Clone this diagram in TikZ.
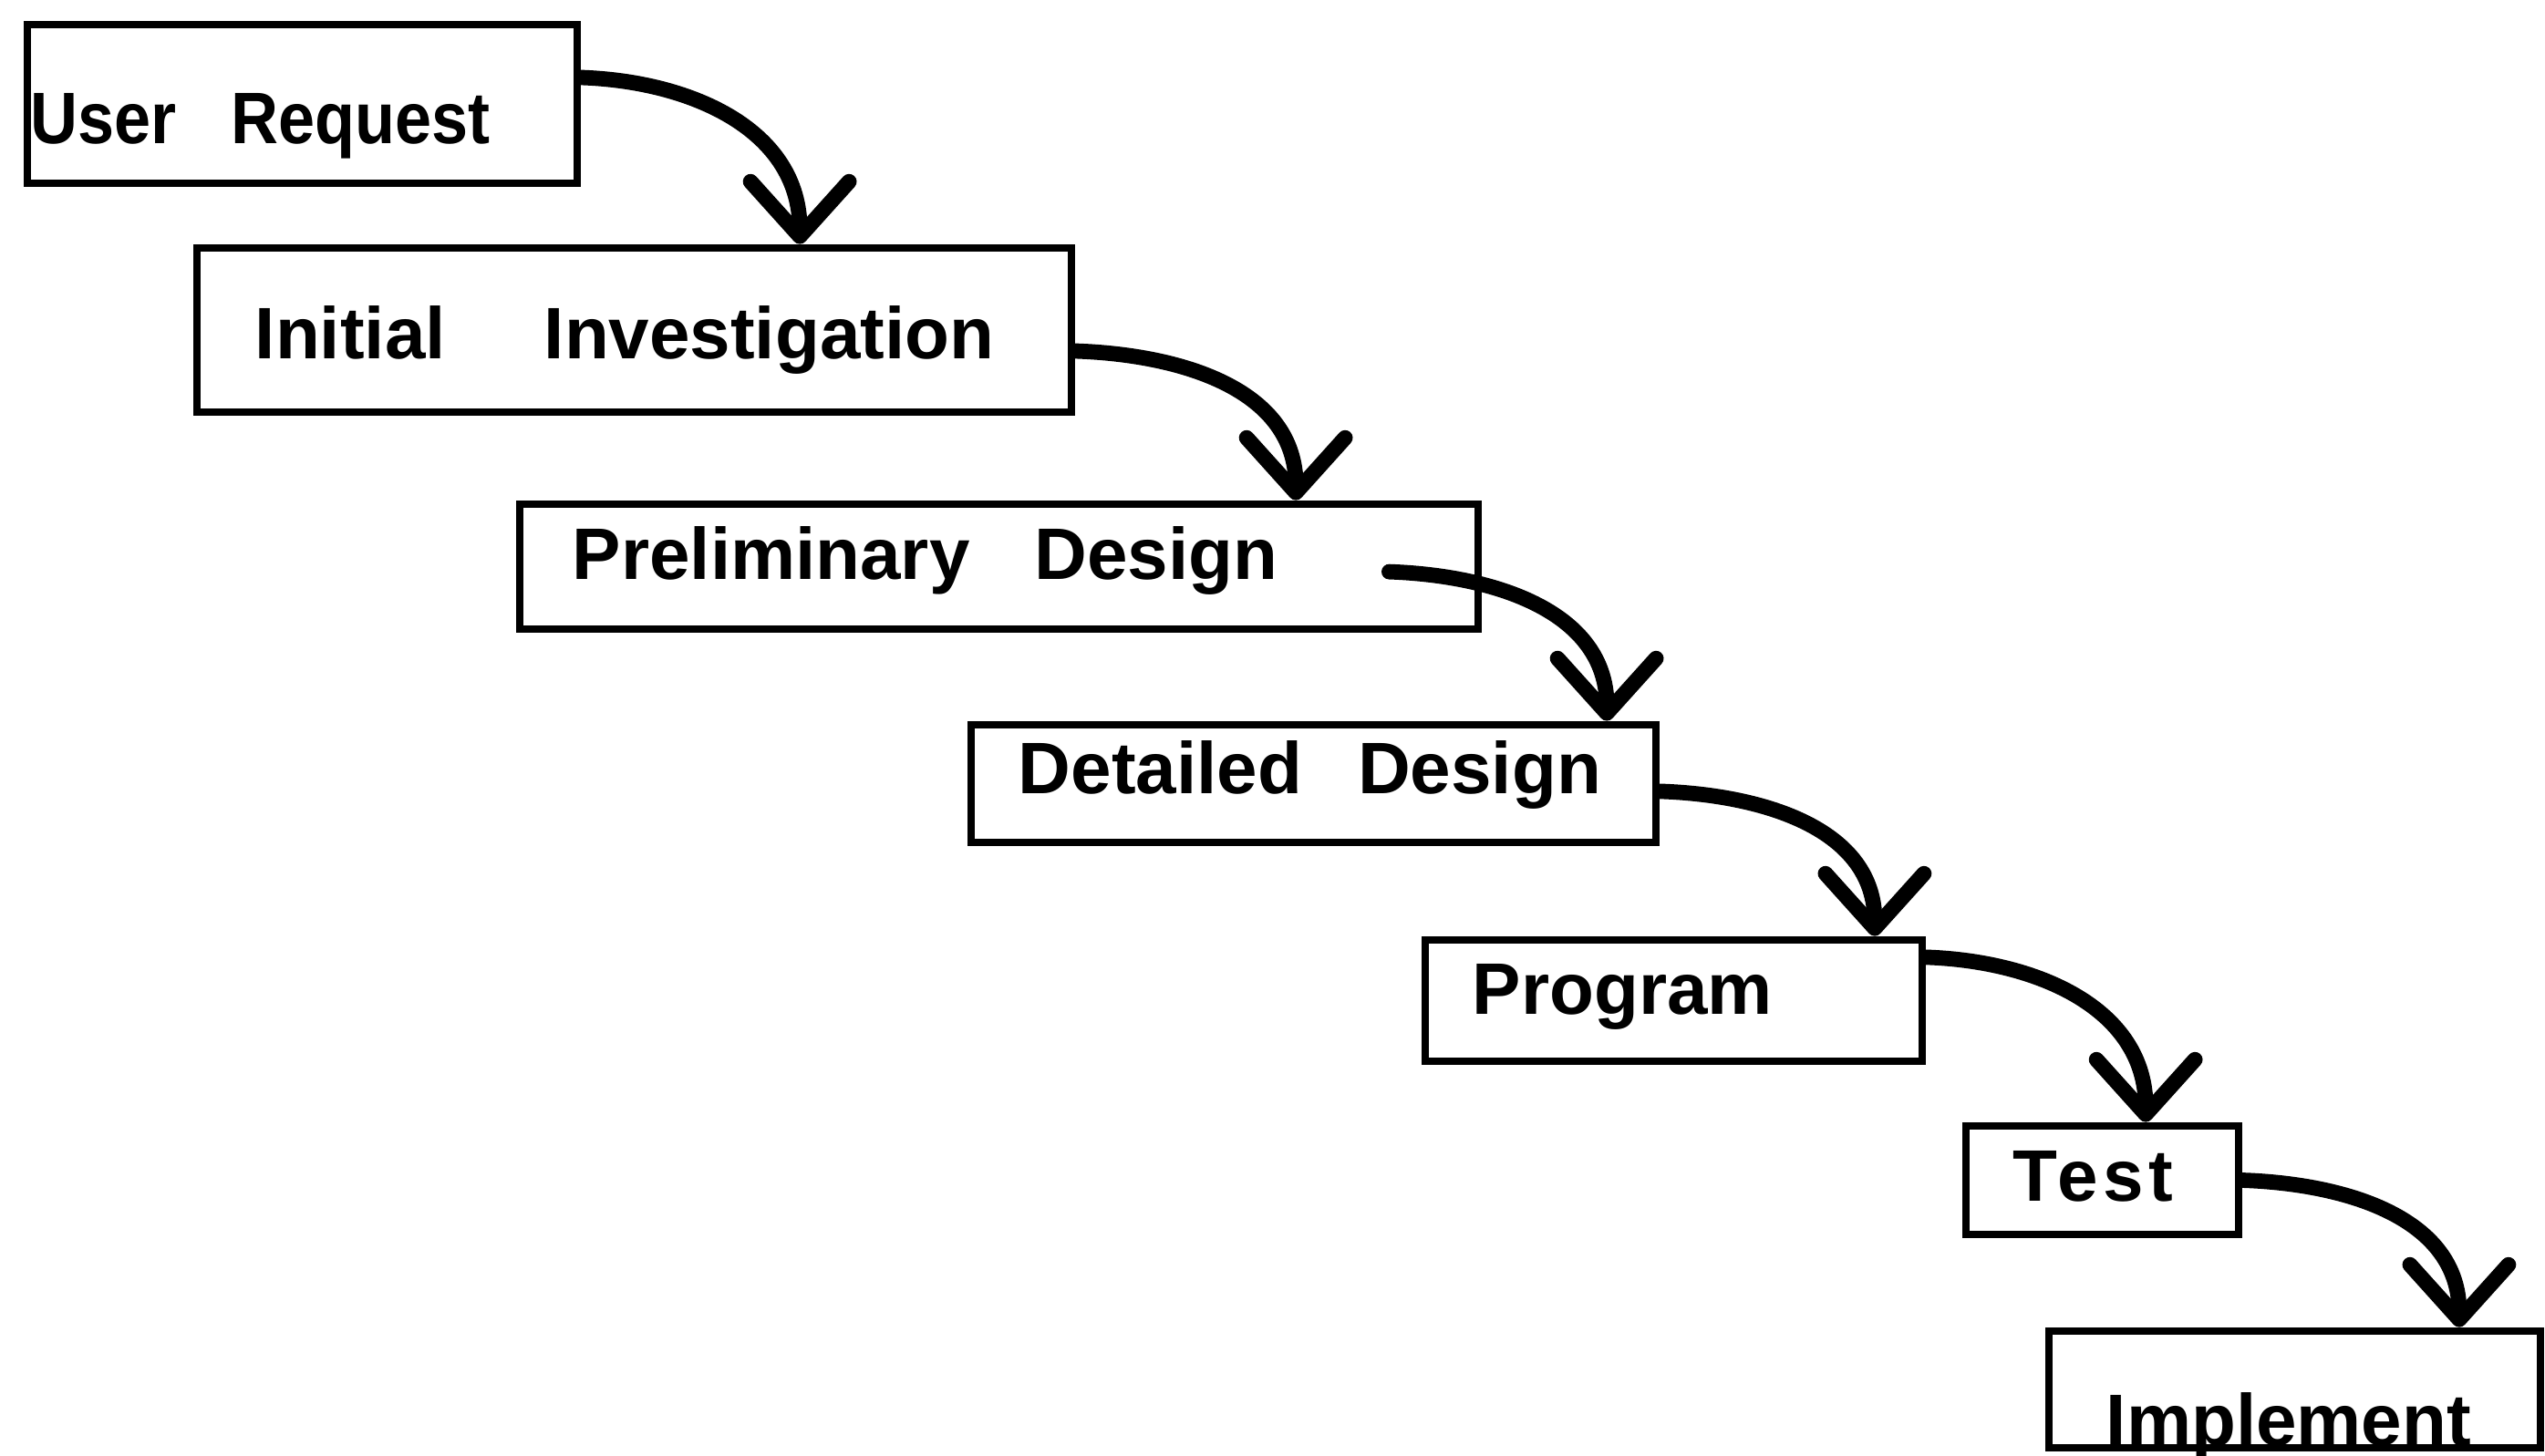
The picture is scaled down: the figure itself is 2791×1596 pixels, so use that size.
\documentclass[tikz,border=0pt]{standalone}
\usepackage{fontspec}
\setmainfont{Liberation Sans}
\usetikzlibrary{arrows.meta,fit}
\begin{document}
\begin{tikzpicture}[x=0.25pt,y=-0.25pt,
  stagebox/.style={draw, line width=2.2pt, inner sep=0pt, rectangle},
  stagetext/.style={anchor=base west, inner sep=0pt, font=\bfseries\fontsize{20}{24}\selectfont},
  flow/.style={line width=4.2pt, line cap=round,
    -{Straight Barb[length=15pt,width=27pt,round]}},
  drop/.style={out=-2,in=90,looseness=1.05}]
\useasboundingbox (0,0) rectangle (2791,1596);

% stages of the life cycle
\node[stagebox, fit={(30,27) (633,201)}] (ur) {};
\node[stagebox, fit={(216,272) (1175,452)}] (ii) {};
\node[stagebox, fit={(570,553) (1621,690)}] (pd) {};
\node[stagebox, fit={(1065,795) (1816,924)}] (dd) {};
\node[stagebox, fit={(1563,1031) (2108,1164)}] (pg) {};
\node[stagebox, fit={(2156,1235) (2455,1354)}] (ts) {};
\node[stagebox, fit={(2247,1460) (2786,1588)}] (im) {};

% stage names
\node[stagetext] (urt) at (33,157) {\addfontfeature{FakeStretch=0.9}User\hspace{15pt}Request};
\node[stagetext] (iit) at (279,393) {Initial\hspace{27pt}Investigation};
\node[stagetext] (pdt) at (627,635) {Preliminary\hspace{17.7pt}Design};
\node[stagetext] (ddt) at (1116,870) {Detailed\hspace{15.3pt}Design};
\node[stagetext] (pgt) at (1614,1112) {Program};
\node[stagetext] (tst) at (2207,1317) {\addfontfeature{LetterSpace=7}Test};
\node[stagetext] (imt) at (2309,1585) {Implement};

% connectors between consecutive stages
\draw[flow] ([yshift=7.25pt]ur.east) to[drop] ([xshift=45.4pt]ii.north);
\draw[flow] ([yshift=-5.75pt]ii.east) to[drop] ([xshift=81.4pt]pd.north);
\draw[flow] ([xshift=-25.5pt,yshift=-1.4pt]pd.east) to[drop] ([xshift=80.4pt]dd.north);
\draw[flow] ([yshift=-2.1pt]dd.east) to[drop] ([xshift=55.1pt]pg.north);
\draw[flow] ([yshift=11.9pt]pg.east) to[drop] ([xshift=11.9pt]ts.north);
\draw[flow] (ts.east) to[drop] ([xshift=45.1pt]im.north);
\end{tikzpicture}
\end{document}
